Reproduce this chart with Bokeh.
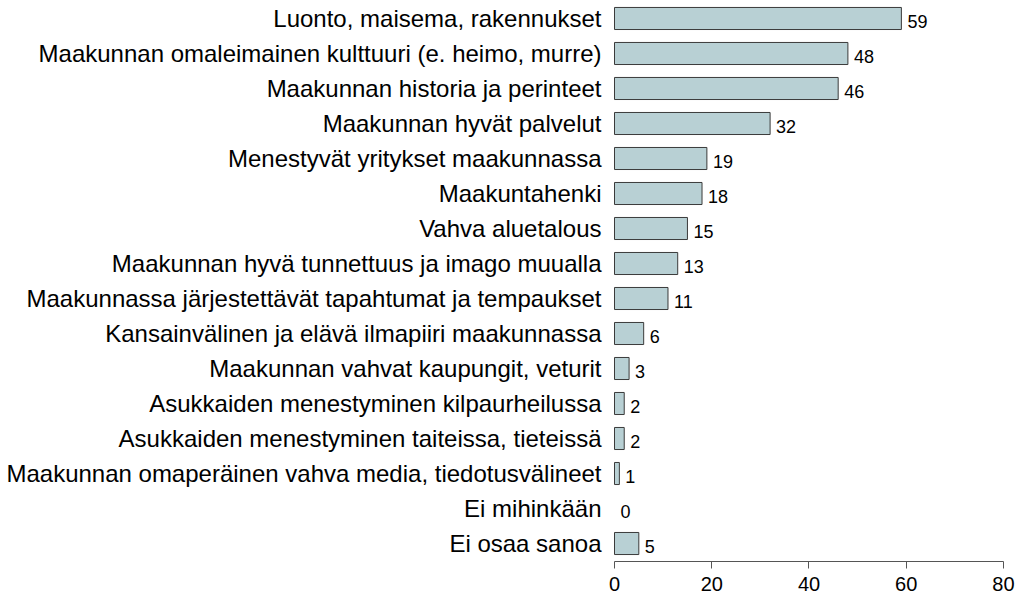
from bokeh.plotting import figure
from bokeh.models import Range1d, FixedTicker, ColumnDataSource, LabelSet
from bokeh.core.properties import value
from bokeh.embed import file_html
from bokeh.resources import INLINE

categories = [
    "Luonto, maisema, rakennukset",
    "Maakunnan omaleimainen kulttuuri (e. heimo, murre)",
    "Maakunnan historia ja perinteet",
    "Maakunnan hyvät palvelut",
    "Menestyvät yritykset maakunnassa",
    "Maakuntahenki",
    "Vahva aluetalous",
    "Maakunnan hyvä tunnettuus ja imago muualla",
    "Maakunnassa järjestettävät tapahtumat ja tempaukset",
    "Kansainvälinen ja elävä ilmapiiri maakunnassa",
    "Maakunnan vahvat kaupungit, veturit",
    "Asukkaiden menestyminen kilpaurheilussa",
    "Asukkaiden menestyminen taiteissa, tieteissä",
    "Maakunnan omaperäinen vahva media, tiedotusvälineet",
    "Ei mihinkään",
    "Ei osaa sanoa",
]
values = [59, 48, 46, 32, 19, 18, 15, 13, 11, 6, 3, 2, 2, 1, 0, 5]
x_ticks = [0, 20, 40, 60, 80]

n = len(categories)
ypos = [n - i for i in range(n)]
src = ColumnDataSource(dict(
    y=ypos, v=values, lab=[str(v) for v in values],
    la=[1.0 if v > 0 else 0.0 for v in values],
))

FONT = "Liberation Sans"

p = figure(width=1016, height=595, output_backend="svg", toolbar_location=None,
           x_range=Range1d(-1.646, 82.675), y_range=Range1d(0.486, 16.514),
           min_border_left=606, min_border_right=0, min_border_top=0,
           min_border_bottom=34)
p.outline_line_color = None
p.grid.visible = False
p.background_fill_color = "white"
p.border_fill_color = "white"

p.hbar(y="y", right="v", left=0, height=0.63, source=src,
       fill_color="#b8d0d4", fill_alpha="la", line_alpha="la",
       line_color="#3a3a3a", line_width=1)

labels = LabelSet(x="v", y="y", text="lab", source=src, x_offset=6, y_offset=-3,
                  text_baseline="middle", text_align="left",
                  text_font=value(FONT), text_font_size=value("18px"),
                  text_color=value("black"))
p.add_layout(labels)

# y axis: category names
p.yaxis.ticker = FixedTicker(ticks=ypos)
p.yaxis.major_label_overrides = {y: c for y, c in zip(ypos, categories)}
p.yaxis.axis_line_color = None
p.yaxis.major_tick_line_color = None
p.yaxis.minor_tick_line_color = None
p.yaxis.major_tick_out = 0
p.yaxis.major_tick_in = 0
p.yaxis.major_label_standoff = 5
p.yaxis.major_label_text_font = FONT
p.yaxis.major_label_text_font_size = "24px"
p.yaxis.major_label_text_color = "black"

# x axis
p.xaxis.ticker = FixedTicker(ticks=x_ticks)
p.xaxis.bounds = (0, 80)
p.xaxis.axis_line_color = "#555555"
p.xaxis.major_tick_line_color = "#555555"
p.xaxis.minor_tick_line_color = None
p.xaxis.major_tick_out = 7
p.xaxis.major_tick_in = 0
p.xaxis.major_label_standoff = 8
p.xaxis.major_label_text_font = FONT
p.xaxis.major_label_text_font_size = "20px"
p.xaxis.major_label_text_color = "black"

open("out.html", "w").write(file_html(p, INLINE))
